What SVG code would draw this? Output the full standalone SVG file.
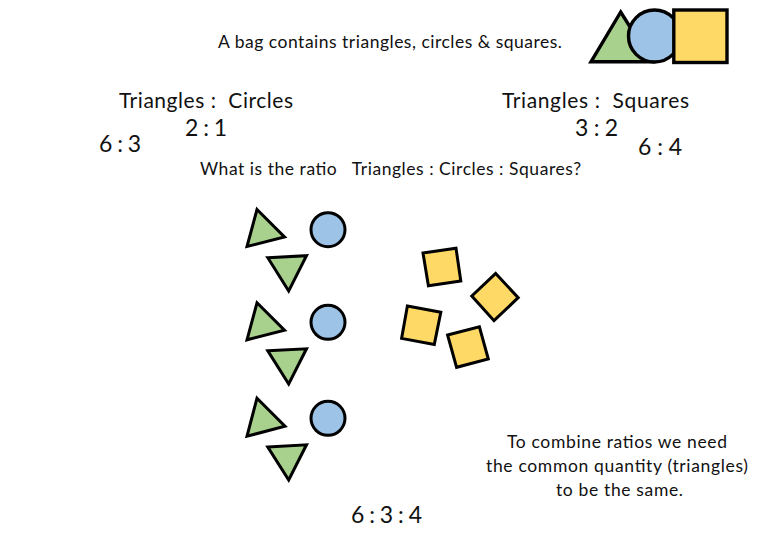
<svg xmlns="http://www.w3.org/2000/svg" width="780" height="540" viewBox="0 0 780 540">
<style>
text{font-family:"Lato","Open Sans",sans-serif;fill:#111}
.s{font-size:17.5px}.m{font-size:21px}.d{font-size:23px}
.tri{fill:#a9d18e;stroke:#000;stroke-width:3;stroke-linejoin:miter}
.cir{fill:#9dc3e6;stroke:#000;stroke-width:3}
.sq{fill:#ffd966;stroke:#000;stroke-width:3;stroke-linejoin:miter}
.h{stroke-width:3.4}
</style>
<rect width="780" height="540" fill="#fff"/>
<g id="legend">
<polygon class="tri h" points="620.7,12 591,61.8 652,61.8"/>
<circle class="cir h" cx="654.5" cy="36" r="26"/>
<rect class="sq h" x="673.8" y="10" width="53.2" height="52.5"/>
</g>
<g id="row1">
<polygon class="tri" points="257,209.5 284.5,237 247,246.5"/>
<polygon class="tri" points="267.8,257.7 306.5,255.7 288.7,291"/>
<circle class="cir" cx="328" cy="229.7" r="17"/>
</g>
<g id="row2">
<polygon class="tri" points="257,302.8 284.5,330.2 247,339.8"/>
<polygon class="tri" points="267.8,350.8 306.5,348.8 288.7,384"/>
<circle class="cir" cx="328" cy="322.3" r="17"/>
</g>
<g id="row3">
<polygon class="tri" points="257,398.2 285,426.2 247,436.2"/>
<polygon class="tri" points="267.8,447 306.5,444.8 288.7,480"/>
<circle class="cir" cx="328" cy="418.3" r="17"/>
</g>
<g id="squares">
<polygon class="sq" points="423,253 456,248.2 460.8,281 428.4,285.8"/>
<polygon class="sq" points="495.7,273.4 518.2,297.7 494,320.7 471.8,296"/>
<polygon class="sq" points="407.4,306 440.8,312.3 434.3,344.4 401.6,338.4"/>
<polygon class="sq" points="447.6,335 479.4,326.8 488.3,359 456.6,367.3"/>
</g>
<g id="labels">
<text class="s" x="218" y="48" textLength="344">A bag contains triangles, circles &amp; squares.</text>
<text class="m" x="119" y="107.5" textLength="174" xml:space="preserve">Triangles :  Circles</text>
<text class="d" x="185" y="136" textLength="42">2 : 1</text>
<text class="d" x="99" y="152" textLength="42">6 : 3</text>
<text class="m" x="502" y="107.5" textLength="187" xml:space="preserve">Triangles :  Squares</text>
<text class="d" x="575" y="136" textLength="43">3 : 2</text>
<text class="d" x="638" y="155" textLength="44">6 : 4</text>
<text class="s" x="200" y="175" textLength="381" xml:space="preserve">What is the ratio   Triangles : Circles : Squares?</text>
<text class="d" x="351" y="523" textLength="71">6 : 3 : 4</text>
<text class="s" x="507" y="448" textLength="220">To combine ratios we need</text>
<text class="s" x="486" y="472" textLength="262">the common quantity (triangles)</text>
<text class="s" x="556" y="496" textLength="127">to be the same.</text>
</g>
</svg>
